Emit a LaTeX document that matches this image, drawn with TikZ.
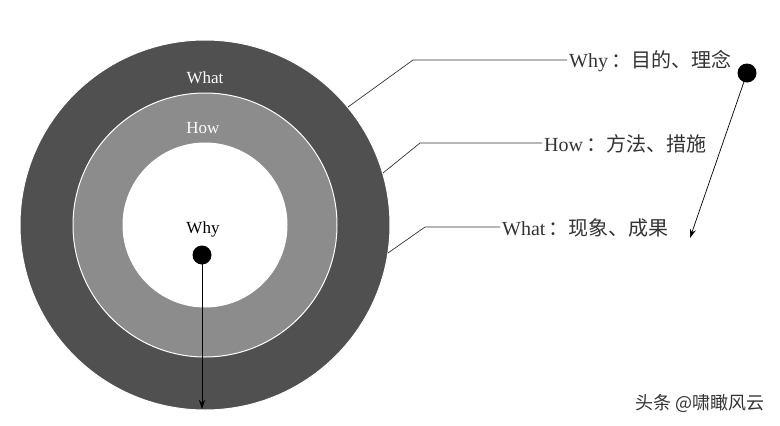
\documentclass[tikz,border=0pt]{standalone}
\usepackage{fontspec}
\setmainfont{Liberation Serif}
\newfontfamily\cjk{Noto Sans CJK SC}
\usetikzlibrary{arrows.meta,positioning}

\definecolor{ringdark}{HTML}{505050}
\definecolor{ringmid}{HTML}{8C8C8C}
\definecolor{labelgray}{HTML}{333333}

\tikzset{
  ring/.style={circle,draw=white,line width=1pt,inner sep=0pt},
  dot/.style={fill=black,circle,inner sep=0pt,minimum size=19pt},
  ringtext/.style={text=white,font=\fontsize{17}{19}\selectfont},
  tag/.style={text=labelgray,font=\fontsize{20}{22}\selectfont,anchor=west,inner sep=2pt},
  leader/.style={draw=labelgray,line width=0.7pt},
  pointer/.style={draw=black,line width=0.7pt,-{Stealth[length=9pt,width=6pt]}}
}

\begin{document}
\begin{tikzpicture}[x=1pt,y=-1pt]
  \useasboundingbox (0,0) rectangle (780,426);

  % the three rings
  \node[ring,fill=ringdark,minimum size=370pt] (what) at (205,225) {};
  \node[ring,fill=ringmid,minimum size=264pt] (how) at (205,225) {};
  \node[ring,fill=white,minimum size=164pt] (why) at (205,225) {};

  % ring captions
  \node[ringtext] (whatcap) at (205,78) {What};
  \node[ringtext] (howcap) at (203,128) {How};
  \node[ringtext,text=black] (whycap) at (203,229) {Why};

  % dot in the centre with its arrow down
  \node[dot] (core) at (202,255) {};
  \coordinate (coreend) at (202,409);
  \draw[pointer] (core.center) -- (coreend);

  % labels on the right
  \node[tag] (whytag) at (567,61) {Why\,{\cjk ：目的、理念}};
  \node[tag] (howtag) at (542,144) {How\,{\cjk ：方法、措施}};
  \node[tag] (whattag) at (500,228) {What\,{\cjk ：现象、成果}};

  % leader lines from the rings to the labels
  \coordinate (a1) at (348,107); \coordinate (b1) at (413,60);
  \coordinate (a2) at (383,173); \coordinate (b2) at (420,143);
  \coordinate (a3) at (388,253); \coordinate (b3) at (425,227);
  \draw[leader] (a1) -- (b1) -- (whytag.west |- b1);
  \draw[leader] (a2) -- (b2) -- (howtag.west |- b2);
  \draw[leader] (a3) -- (b3) -- (whattag.west |- b3);

  % dot on the right with its arrow
  \node[dot] (top) at (747,73) {};
  \coordinate (topend) at (690,238);
  \draw[pointer] (top.center) -- (topend);

  % watermark
  \node[text=labelgray,font=\cjk\fontsize{18}{20}\selectfont,anchor=east] (mark) at (768,403) {头条 @啸瞰风云};
\end{tikzpicture}
\end{document}
